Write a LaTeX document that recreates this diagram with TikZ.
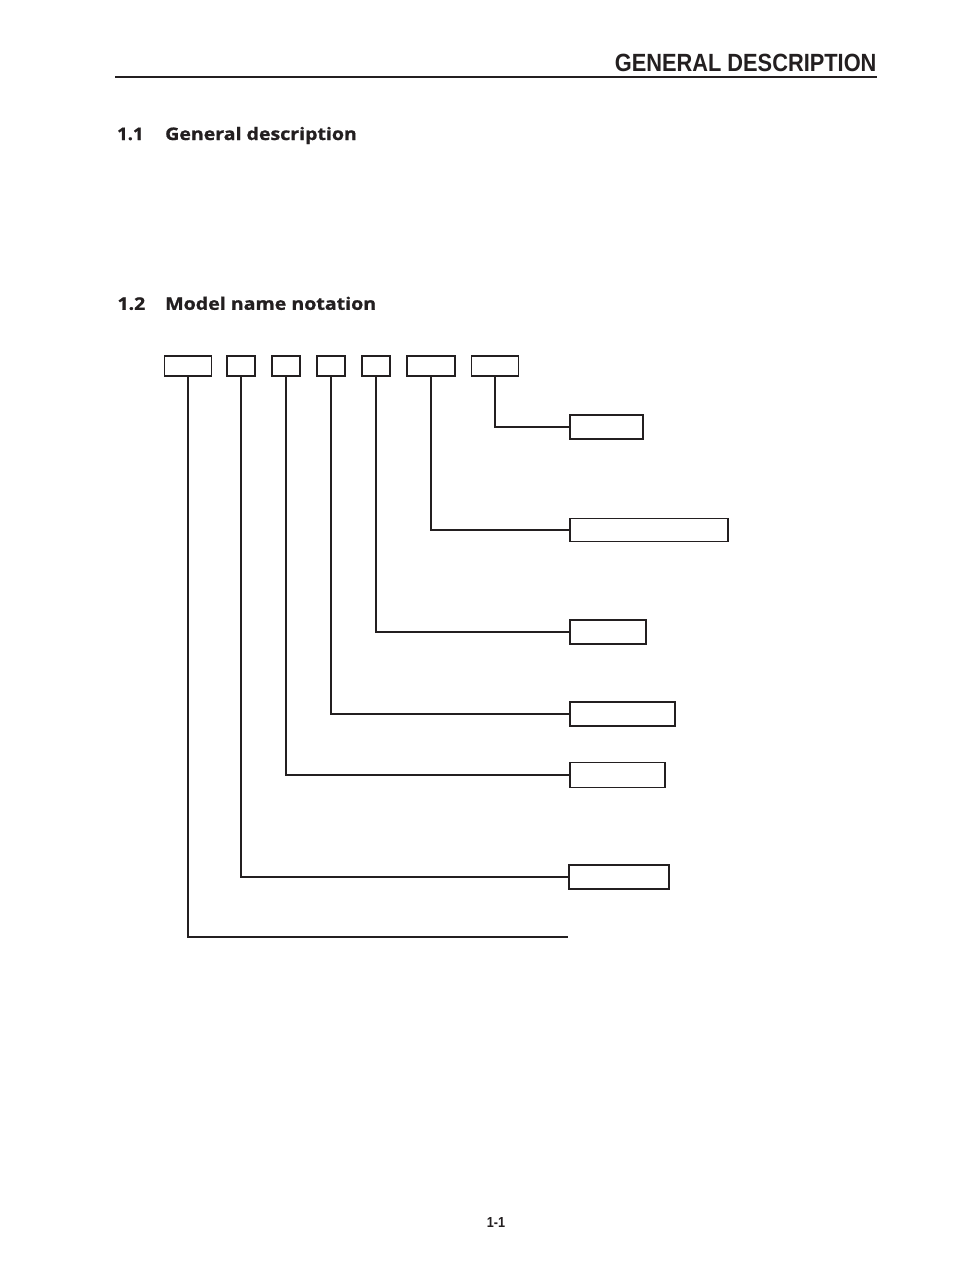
\documentclass[tikz,border=0pt]{standalone}
\usepackage{fontspec}
\usepackage{graphicx}
\setmainfont{Liberation Sans}
\newfontfamily\secfont[FakeBold=1]{Open Sans}
\definecolor{ink}{HTML}{231F20}
\tikzset{
  topbox/.style={draw=ink, line width=1.6pt, minimum height=20pt, inner sep=0pt, rectangle},
  rbox/.style={draw=ink, line width=1.6pt, minimum height=24pt, inner sep=0pt, rectangle, anchor=west},
  conn/.style={draw=ink, line width=1.6pt},
  txt/.style={anchor=base west, inner sep=0pt, text=ink},
}
\newcommand{\sectxt}[2]{\resizebox{#1}{\height}{\fontsize{17.3pt}{20pt}\selectfont\secfont\bfseries #2}}
\begin{document}
\begin{tikzpicture}[x=1pt,y=-1pt]
\useasboundingbox (0,0) rectangle (954,1272);
% header
\node[anchor=base east, inner sep=0pt, text=ink] (hdr) at (876.7,71.7) {\resizebox{261.7pt}{17.4pt}{\bfseries GENERAL DESCRIPTION}};
\coordinate (rl) at (115,77);
\coordinate (rr) at (877,77);
\draw[ink, line width=2.7pt] (rl) -- (rr);
% sections
\node[txt] (s1n) at (117,140) {\sectxt{26.3pt}{1.1}};
\node[txt] (s1t) at (165,140) {\sectxt{191.7pt}{General description}};
\node[txt] (s2n) at (117.3,309.8) {\sectxt{27.7pt}{1.2}};
\node[txt] (s2t) at (165,309.8) {\sectxt{211pt}{Model name notation}};
% top boxes
\node[topbox, minimum width=47pt] (t1) at (188,366) {};
\node[topbox, minimum width=28pt] (t2) at (241,366) {};
\node[topbox, minimum width=28pt] (t3) at (286,366) {};
\node[topbox, minimum width=28pt] (t4) at (331,366) {};
\node[topbox, minimum width=28pt] (t5) at (376,366) {};
\node[topbox, minimum width=48pt] (t6) at (431,366) {};
\node[topbox, minimum width=47pt] (t7) at (495,366) {};
% right boxes
\node[rbox, minimum width=73pt] (r1) at (569,427) {};
\node[rbox, minimum width=158pt, minimum height=23pt] (r2) at (569,530) {};
\node[rbox, minimum width=76pt] (r3) at (569,632) {};
\node[rbox, minimum width=105pt] (r4) at (569,714) {};
\node[rbox, minimum width=95pt, minimum height=25pt] (r5) at (569,775) {};
\node[rbox, minimum width=100pt] (r6) at (568,877) {};
\coordinate (e7) at (568,937);
% connectors
\draw[conn] (t7.south) |- (r1.west);
\draw[conn] (t6.south) |- (r2.west);
\draw[conn] (t5.south) |- (r3.west);
\draw[conn] (t4.south) |- (r4.west);
\draw[conn] (t3.south) |- (r5.west);
\draw[conn] (t2.south) |- (r6.west);
\draw[conn] (t1.south) |- (e7);
% page number
\node[txt] (pg) at (486.7,1227.7) {\resizebox{18.3pt}{10pt}{\bfseries 1-1}};
\end{tikzpicture}
\end{document}
